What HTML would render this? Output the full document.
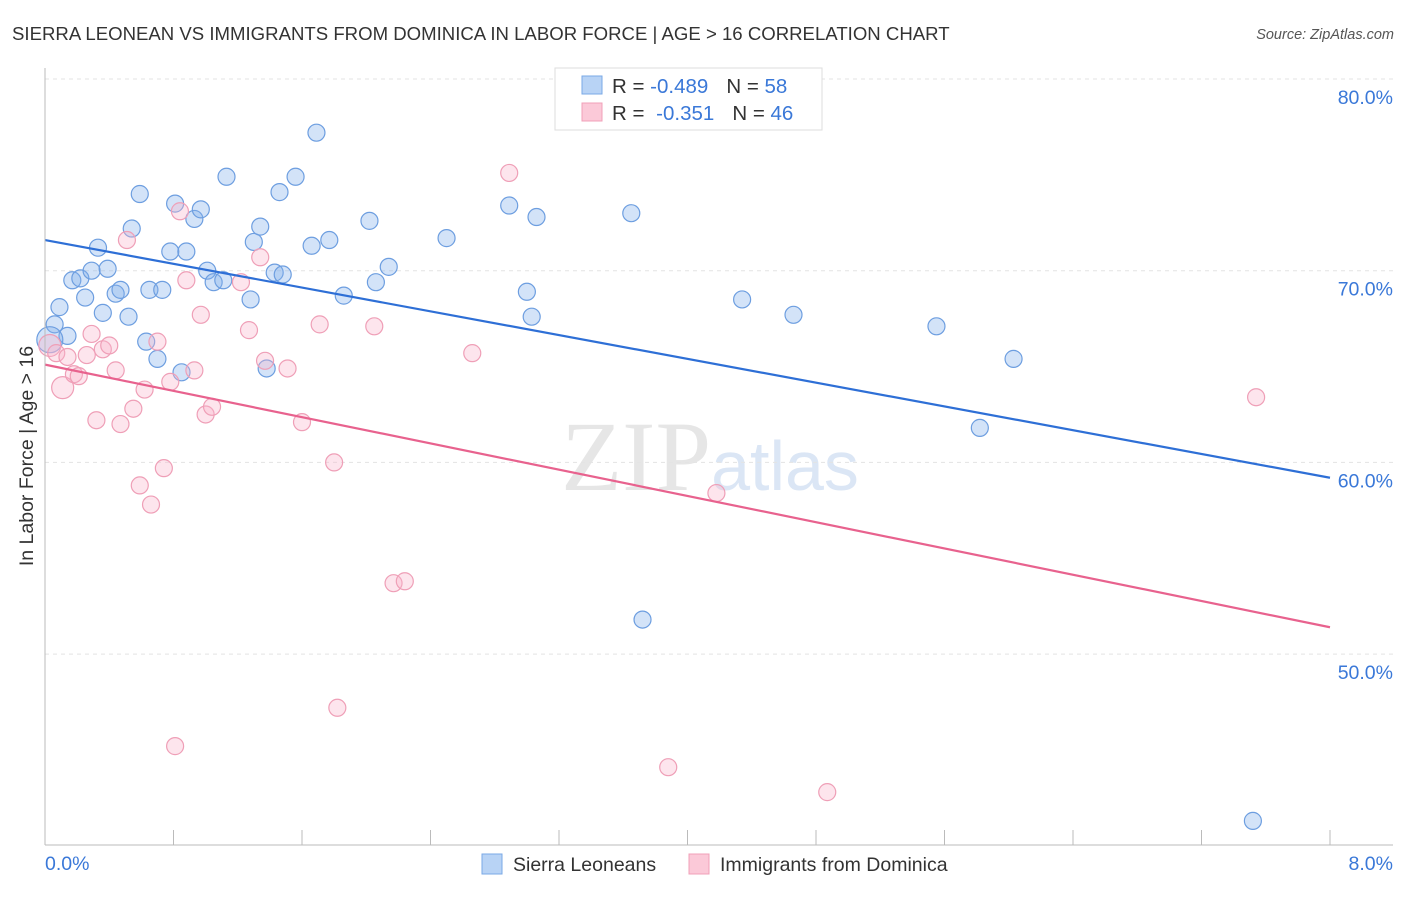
<!DOCTYPE html>
<html><head><meta charset="utf-8"><style>
body{margin:0;background:#fff;font-family:"Liberation Sans",sans-serif}
</style></head><body>
<svg width="1406" height="892" xmlns="http://www.w3.org/2000/svg" id="chart">
<text x="12" y="40" font-size="18.6" fill="#333">SIERRA LEONEAN VS IMMIGRANTS FROM DOMINICA IN LABOR FORCE | AGE &gt; 16 CORRELATION CHART</text>
<text x="1394" y="39" font-size="14.5" fill="#555" text-anchor="end" font-style="italic">Source: ZipAtlas.com</text>
<text x="710" y="490" font-size="100" fill="#e6e6e6" text-anchor="middle" font-family="Liberation Serif">ZIP<tspan fill="#dbe6f5" font-family="Liberation Sans" font-size="70">atlas</tspan></text>
<g id="grid"></g><g id="pts"></g><g id="lines"></g>
<line x1="45" y1="68" x2="45" y2="845" stroke="#bbb"/>
<line x1="45" y1="845" x2="1393" y2="845" stroke="#bbb"/>
<text x="33" y="456" font-size="19.5" fill="#333" text-anchor="middle" transform="rotate(-90 33 456)">In Labor Force | Age &gt; 16</text>
<text x="45" y="870" font-size="19.5" fill="#3a78d8">0.0%</text>
<text x="1393" y="870" font-size="19.5" fill="#3a78d8" text-anchor="end">8.0%</text>
<g>
<rect x="555" y="68" width="267" height="62" fill="#fff" stroke="#ddd"/>
<rect x="582" y="76" width="20" height="18" fill="#b8d3f5" stroke="#7aa8e6"/>
<text x="612" y="93" font-size="20.5" fill="#333">R = <tspan fill="#3a78d8">-0.489</tspan><tspan dx="18">N = </tspan><tspan fill="#3a78d8">58</tspan></text>
<rect x="582" y="103" width="20" height="18" fill="#fbc9d8" stroke="#f0a0b8"/>
<text x="612" y="120" font-size="20.5" fill="#333">R = <tspan dx="6" fill="#3a78d8">-0.351</tspan><tspan dx="18">N = </tspan><tspan fill="#3a78d8">46</tspan></text>
</g>
<g>
<rect x="482" y="854" width="20" height="20" fill="#b8d3f5" stroke="#7aa8e6"/>
<text x="513" y="871" font-size="19.5" fill="#333">Sierra Leoneans</text>
<rect x="689" y="854" width="20" height="20" fill="#fbc9d8" stroke="#f0a0b8"/>
<text x="720" y="871" font-size="19.5" fill="#333">Immigrants from Dominica</text>
</g>
</svg>
<script>
const yTicks=[80,70,60,50];
const yTickLabels=["80.0%","70.0%","60.0%","50.0%"];
const xTicks=[0,0.8,1.6,2.4,3.2,4.0,4.8,5.6,6.4,7.2,8.0];
const blueX=[0.06,0.09,0.14,0.17,0.22,0.25,0.29,0.33,0.36,0.39,0.44,0.47,0.52,0.54,0.59,0.63,0.65,0.70,0.73,0.78,0.81,0.85,0.88,0.93,0.97,1.01,1.05,1.11,1.13,1.28,1.30,1.34,1.38,1.43,1.46,1.48,1.56,1.66,1.69,1.77,1.86,2.02,2.06,2.14,2.50,2.89,3.00,3.03,3.06,3.65,3.72,4.34,4.66,5.55,5.82,6.03,7.52,0.03];
const blueY=[67.2,68.1,66.6,69.5,69.6,68.6,70.0,71.2,67.8,70.1,68.8,69.0,67.6,72.2,74.0,66.3,69.0,65.4,69.0,71.0,73.5,64.7,71.0,72.7,73.2,70.0,69.4,69.5,74.9,68.5,71.5,72.3,64.9,69.9,74.1,69.8,74.9,71.3,77.2,71.6,68.7,72.6,69.4,70.2,71.7,73.4,68.9,67.6,72.8,73.0,51.8,68.5,67.7,67.1,61.8,65.4,41.3,66.4];
const pinkX=[0.03,0.07,0.11,0.14,0.18,0.21,0.26,0.29,0.32,0.36,0.40,0.44,0.47,0.51,0.55,0.59,0.62,0.66,0.70,0.74,0.78,0.81,0.84,0.88,0.93,0.97,1.00,1.04,1.22,1.27,1.34,1.37,1.51,1.60,1.71,1.80,1.82,2.05,2.17,2.24,2.66,2.89,3.88,4.18,4.87,7.54];
const pinkY=[66.1,65.7,63.9,65.5,64.6,64.5,65.6,66.7,62.2,65.9,66.1,64.8,62.0,71.6,62.8,58.8,63.8,57.8,66.3,59.7,64.2,45.2,73.1,69.5,64.8,67.7,62.5,62.9,69.4,66.9,70.7,65.3,64.9,62.1,67.2,60.0,47.2,67.1,53.7,53.8,65.7,75.1,44.1,58.4,42.8,63.4];
const blueBig=[57];const pinkBig=[0,2];
const blueTrend=[71.6,59.2];const pinkTrend=[65.1,51.4];
const xs=v=>45+v/8*1285, ys=v=>79+(80-v)*19.17;
const NS="http://www.w3.org/2000/svg";
function mk(t,a,p){const e=document.createElementNS(NS,t);for(const k in a)e.setAttribute(k,a[k]);document.getElementById(p).appendChild(e);return e;}
yTicks.forEach((t,i)=>{
 const l=mk('line',{x1:45,x2:1393,y1:ys(t),y2:ys(t),stroke:'#e3e3e3','stroke-dasharray':'4,4'},'grid');
 
 
 const tx=mk('text',{x:1393,y:ys(t)+25,'font-size':19.5,fill:'#3a78d8','text-anchor':'end'},'grid');
 tx.textContent=yTickLabels[i];
 
 
});
xTicks.forEach(t=>{
 const l=mk('line',{x1:xs(t),x2:xs(t),y1:830,y2:845,stroke:'#bbb'},'grid');
 
 
});
blueX.forEach((x,i)=>{
 const c=mk('circle',{cx:xs(x),cy:ys(blueY[i]),r:blueBig.includes(i)?13:8.5,fill:'rgba(130,175,235,0.35)',stroke:'#6d9ee0','stroke-width':1.2},'pts');
 
 
});
pinkX.forEach((x,i)=>{
 const c=mk('circle',{cx:xs(x),cy:ys(pinkY[i]),r:pinkBig.includes(i)?11:8.5,fill:'rgba(248,180,202,0.35)',stroke:'#ef9fb7','stroke-width':1.2},'pts');
 
 
});
const bl=mk('line',{x1:xs(0),x2:xs(8),y1:ys(blueTrend[0]),y2:ys(blueTrend[1]),stroke:'#2e6fd6','stroke-width':2.2},'lines');


const pl=mk('line',{x1:xs(0),x2:xs(8),y1:ys(pinkTrend[0]),y2:ys(pinkTrend[1]),stroke:'#e8628e','stroke-width':2.2},'lines');


</script>
</body></html>
